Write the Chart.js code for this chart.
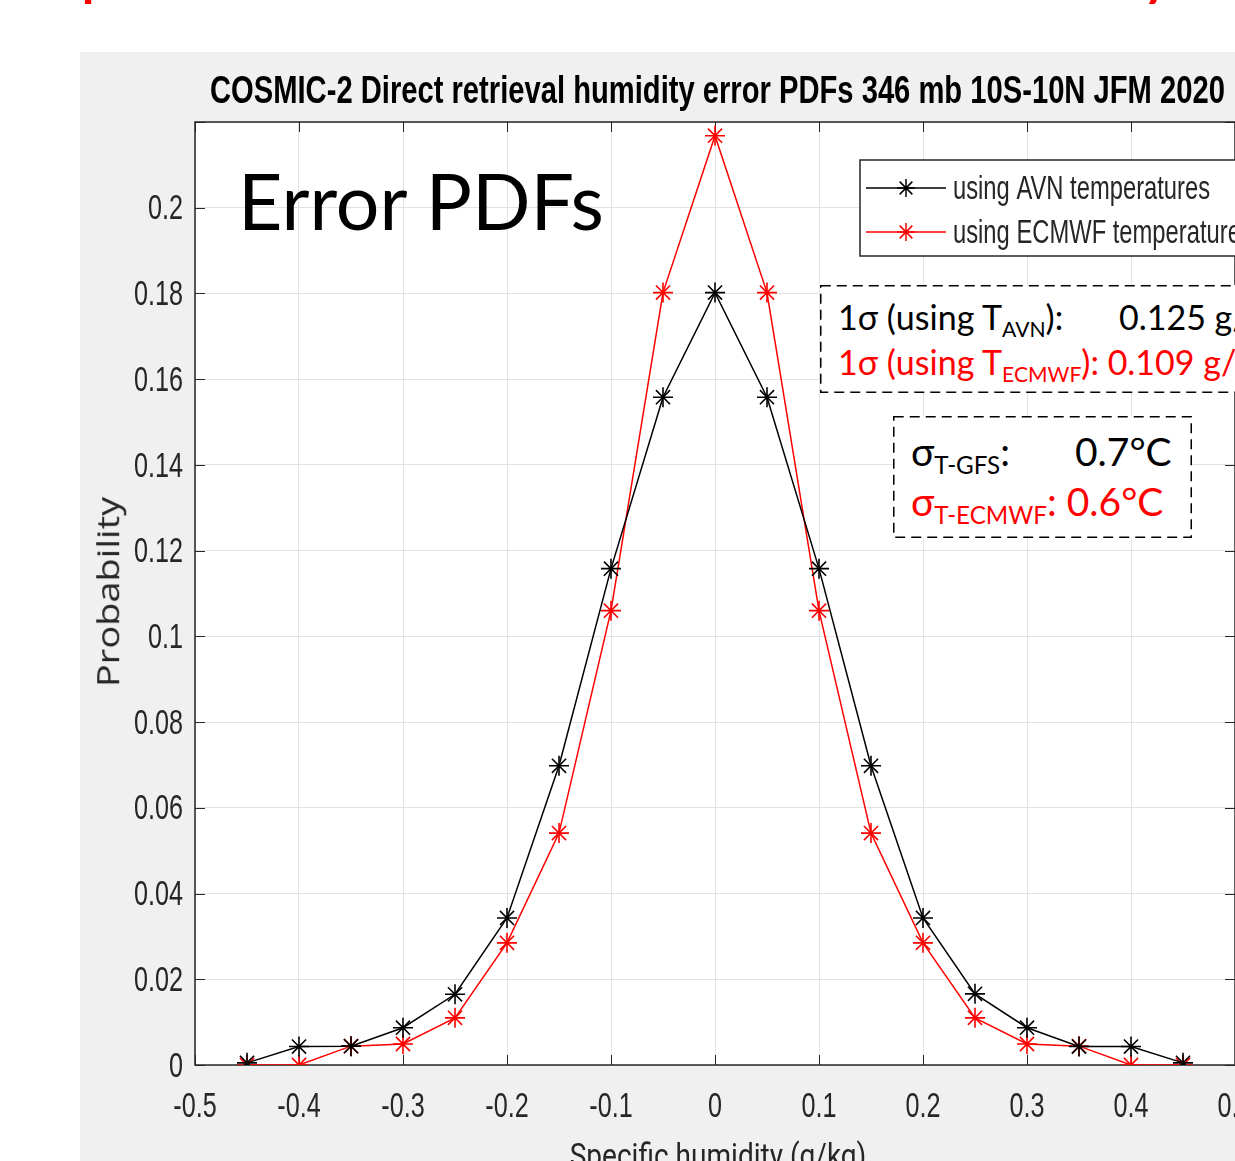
<!DOCTYPE html>
<html>
<head>
<meta charset="utf-8">
<script src="https://cdn.jsdelivr.net/npm/chart.js@4.4.1/dist/chart.umd.min.js"></script>
<style>
  html, body { margin: 0; padding: 0; background: #ffffff; }
  body { width: 1235px; height: 1161px; overflow: hidden; position: relative; }
  .frag { position: absolute; color: #ff0000; font-family: Lato, sans-serif; font-size: 70px; line-height: 1; }
  #panel { position: absolute; left: 80px; top: 52px; width: 1240px; height: 1109px; background: #f0f0f0; }
  #wrap { position: absolute; left: 80px; top: 52px; width: 1240px; height: 1109px; }
  #title { position: absolute; left: 210px; top: 68px; white-space: nowrap; transform-origin: 0 0;
    font-family: "Liberation Sans", Arial, sans-serif; font-weight: bold; font-size: 39px; color: #000; }
  #ylabel { position: absolute; left: 107px; top: 592px; white-space: nowrap; transform: translate(-50%, -50%) rotate(-90deg) scaleY(0.8);
    font-family: "Open Sans", sans-serif; font-size: 38px; color: #262626; }
  #xlabel { position: absolute; left: 718px; top: 1136px; white-space: nowrap; transform: translateX(-50%) scaleX(0.85);
    font-family: Roboto, sans-serif; font-size: 33px; color: #262626; }
  #bigtext { position: absolute; left: 238px; top: 162px; font-family: Lato, sans-serif; font-size: 77px; color: #000; line-height: 1; }
  .note { position: absolute; background: #ffffff; font-family: Lato, sans-serif; white-space: nowrap; }
  .note svg { position: absolute; left: 0; top: 0; overflow: visible; }
  .note sub { font-size: 62%; vertical-align: -0.35em; }
  #note1 { left: 820px; top: 285px; width: 440px; height: 108px; font-size: 34px; }
  #note2 { left: 893px; top: 416px; width: 299px; height: 122px; font-size: 39px; }
  .row { position: absolute; }
  .red { color: #ff0000; }
</style>
</head>
<body>
<div class="frag" style="left:80px; top:-70px;">p</div>
<div class="frag" style="left:1140px; top:-70px;">y</div>
<div id="panel"></div>
<div id="wrap"><canvas id="pdf-chart"></canvas></div>
<div id="title">COSMIC-2 Direct retrieval humidity error PDFs 346 mb 10S-10N JFM 2020</div>
<div id="ylabel">Probability</div>
<div id="xlabel">Specific humidity (g/kg)</div>
<div id="bigtext">Error PDFs</div>
<div class="note" id="note1">
  <svg width="440" height="108"><rect x="0.75" y="0.75" width="438.5" height="106.5" fill="none" stroke="#000" stroke-width="1.5" stroke-dasharray="10 6"/></svg>
  <div class="row" style="left:18px; top:11px;">1σ (using T<sub>AVN</sub>):</div>
  <div class="row" style="left:299px; top:11px;">0.125 g/kg</div>
  <div class="row red" style="left:18px; top:56px;">1σ (using T<sub>ECMWF</sub>): 0.109 g/kg</div>
</div>
<div class="note" id="note2">
  <svg width="299" height="122"><rect x="0.75" y="0.75" width="297.5" height="120.5" fill="none" stroke="#000" stroke-width="1.5" stroke-dasharray="10 6"/></svg>
  <div class="row" style="left:18px; top:12px;">σ<sub>T-GFS</sub>:</div>
  <div class="row" style="left:182px; top:12px;">0.7°C</div>
  <div class="row red" style="left:18px; top:62px;">σ<sub>T-ECMWF</sub>: 0.6°C</div>
</div>
<script>
const humidityBins = [-0.45, -0.4, -0.35, -0.3, -0.25, -0.2, -0.15, -0.1, -0.05, 0, 0.05, 0.1, 0.15, 0.2, 0.25, 0.3, 0.35, 0.4, 0.45];
const avnProb = [0.0005, 0.0043, 0.0044, 0.0087, 0.0165, 0.0343, 0.0698, 0.1158, 0.1558, 0.1802, 0.1558, 0.1158, 0.0698, 0.0343, 0.0166, 0.0087, 0.0043, 0.0043, 0.0005];
const ecmwfProb = [0, 0, 0.0044, 0.0049, 0.011, 0.0285, 0.0541, 0.106, 0.1802, 0.2168, 0.1802, 0.106, 0.0541, 0.0285, 0.011, 0.0049, 0.0044, 0, 0];
const seriesLabels = ["using AVN temperatures", "using ECMWF temperatures"];
const seriesColors = ["#000000", "#ff0000"];

const tickFont = '35px "Liberation Sans", Arial, sans-serif';
const squeeze = 0.72;

// fit title to its width in the reference
const titleEl = document.getElementById("title");
titleEl.style.transform = "scaleX(" + (1015 / titleEl.offsetWidth) + ")";

function toPoints(values) {
  return humidityBins.map(function (x, i) {
    return { x: x, y: values[i] };
  });
}

function squeezedText(ctx, text, x, y, align, baseline) {
  ctx.save();
  ctx.translate(x, y);
  ctx.scale(squeeze, 1);
  ctx.textAlign = align;
  ctx.textBaseline = baseline;
  ctx.fillText(text, 0, 0);
  ctx.restore();
}

const frameAndLegend = {
  id: "frameAndLegend",
  beforeDraw: function (chart) {
    const a = chart.chartArea;
    const ctx = chart.ctx;
    ctx.save();
    ctx.fillStyle = "#ffffff";
    ctx.fillRect(a.left, a.top, a.right - a.left, a.bottom - a.top);
    ctx.restore();
  },
  beforeDatasetsDraw: function (chart) {
    const a = chart.chartArea;
    const ctx = chart.ctx;
    const xs = chart.scales.x;
    const ys = chart.scales.y;
    ctx.save();
    ctx.strokeStyle = "#262626";
    ctx.lineWidth = 1;
    ctx.beginPath();
    xs.ticks.forEach(function (t) {
      const px = Math.round(xs.getPixelForValue(t.value)) + 0.5;
      ctx.moveTo(px, a.bottom); ctx.lineTo(px, a.bottom - 10);
      ctx.moveTo(px, a.top); ctx.lineTo(px, a.top + 10);
    });
    ys.ticks.forEach(function (t) {
      const py = Math.round(ys.getPixelForValue(t.value)) + 0.5;
      ctx.moveTo(a.left, py); ctx.lineTo(a.left + 10, py);
      ctx.moveTo(a.right, py); ctx.lineTo(a.right - 10, py);
    });
    ctx.stroke();
    ctx.lineWidth = 1.5;
    ctx.strokeRect(a.left, a.top, a.right - a.left, a.bottom - a.top);

    // tick labels, narrow like the original
    ctx.fillStyle = "#262626";
    ctx.font = tickFont;
    xs.ticks.forEach(function (t) {
      const label = String(Number(t.value.toFixed(1)));
      squeezedText(ctx, label, xs.getPixelForValue(t.value), a.bottom + 42, "center", "middle");
    });
    ys.ticks.forEach(function (t) {
      const r = Number(t.value.toFixed(2));
      if (r > 0.21) return;
      squeezedText(ctx, String(r), a.left - 12, ys.getPixelForValue(t.value) + 2, "right", "middle");
    });
    ctx.restore();
  },
  afterDraw: function (chart) {
    const ctx = chart.ctx;
    const left = 780;
    const top = 108;
    ctx.save();
    ctx.fillStyle = "#ffffff";
    ctx.fillRect(left, top, 420, 96);
    ctx.strokeStyle = "#262626";
    ctx.lineWidth = 1.5;
    ctx.strokeRect(left, top, 420, 96);
    seriesLabels.forEach(function (label, i) {
      const y = top + 28 + i * 44;
      ctx.strokeStyle = seriesColors[i];
      ctx.lineWidth = 1.5;
      ctx.beginPath();
      ctx.moveTo(left + 6, y);
      ctx.lineTo(left + 86, y);
      ctx.stroke();
      Chart.helpers.drawPoint(ctx, { pointStyle: "star", radius: 9, borderWidth: 1.5 }, left + 46, y);
      ctx.fillStyle = "#262626";
      ctx.font = '33px "Liberation Sans", Arial, sans-serif';
      squeezedText(ctx, label, left + 93, y + 2, "left", "middle");
    });
    ctx.restore();
  },
};

new Chart(document.getElementById("pdf-chart"), {
  type: "scatter",
  data: {
    datasets: [
      {
        label: seriesLabels[0],
        data: toPoints(avnProb),
        showLine: true,
        borderColor: seriesColors[0],
        backgroundColor: seriesColors[0],
        borderWidth: 1.5,
        pointStyle: "star",
        pointRadius: 10,
        pointBorderWidth: 1.6,
      },
      {
        label: seriesLabels[1],
        data: toPoints(ecmwfProb),
        showLine: true,
        borderColor: seriesColors[1],
        backgroundColor: seriesColors[1],
        borderWidth: 1.5,
        pointStyle: "star",
        pointRadius: 10,
        pointBorderWidth: 1.6,
      },
    ],
  },
  options: {
    responsive: true,
    maintainAspectRatio: false,
    animation: false,
    layout: {
      padding: { top: 70, right: 85, left: 0, bottom: 0 },
    },
    plugins: {
      legend: { display: false },
      tooltip: { enabled: false },
    },
    scales: {
      x: {
        type: "linear",
        min: -0.5,
        max: 0.5,
        afterFit: function (scale) { scale.height = 96; },
        border: { display: false },
        grid: { color: "#e3e3e3", lineWidth: 1, drawTicks: false },
        ticks: { stepSize: 0.1, display: false },
      },
      y: {
        type: "linear",
        min: 0,
        max: 0.22,
        afterFit: function (scale) { scale.width = 115; },
        border: { display: false },
        grid: { color: "#e3e3e3", lineWidth: 1, drawTicks: false },
        ticks: { stepSize: 0.02, display: false },
      },
    },
  },
  plugins: [frameAndLegend],
});
</script>
</body>
</html>
